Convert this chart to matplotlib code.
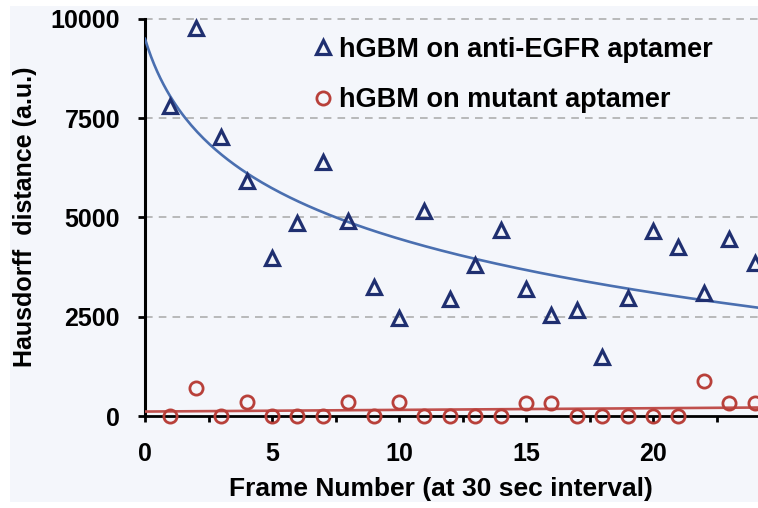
import numpy as np
import matplotlib
matplotlib.use('Agg')
import matplotlib.pyplot as plt
from matplotlib.patches import Rectangle
from matplotlib.ticker import MultipleLocator, FuncFormatter

# Frame numbers and Hausdorff distances
frames = np.arange(1, 25)
egfr = [7800, 9770, 7030, 5920, 3980, 4860, 6400, 4910, 3250, 2470, 5160, 2950,
        3800, 4690, 3200, 2540, 2670, 1490, 2970, 4660, 4260, 3100, 4460, 3850]
mutant = [0, 700, 0, 350, 0, 0, 0, 350, 0, 350, 0, 0,
          0, 0, 330, 330, 0, 0, 0, 0, 0, 880, 330, 330]

labels = ['hGBM on anti-EGFR aptamer', 'hGBM on mutant aptamer']
yticks = [0, 2500, 5000, 7500, 10000]

plt.rcParams['font.family'] = ['Liberation Sans', 'DejaVu Sans']
plt.rcParams['font.weight'] = 'bold'
plt.rcParams['xtick.major.pad'] = 14.5
plt.rcParams['xtick.major.size'] = 4
plt.rcParams['xtick.major.width'] = 2
plt.rcParams['xtick.labelsize'] = 18
plt.rcParams['ytick.major.pad'] = 13
plt.rcParams['ytick.major.size'] = 5
plt.rcParams['ytick.major.width'] = 2
plt.rcParams['ytick.labelsize'] = 18

fig = plt.figure(figsize=(7.58, 5.08), dpi=100)
fig.patch.set_facecolor('white')
# light panel behind the chart
panel = Rectangle((10 / 758, 6 / 508), 1, 496 / 508, transform=fig.transFigure,
                  facecolor='#f4f6fb', edgecolor='none', zorder=-5)
fig.add_artist(panel)

ax = fig.add_axes([145 / 758, 92 / 508, 613 / 758, 399 / 508])
ax.set_facecolor('none')

# trend lines: log fit for EGFR, linear fit for mutant
xs = np.linspace(0, 24.13, 200)
b, a = np.polyfit(np.log(frames + 1), egfr, 1)
ax.plot(xs, a + b * np.log(xs + 1), color='#4a6fb0', lw=1.9, zorder=3)
m, c = np.polyfit(frames, mutant, 1)
ax.plot(xs, c + m * xs, color='#c0504d', lw=1.9, zorder=3)

ax.plot(frames, egfr, linestyle='none', marker='^', ms=10.5, mfc='none',
        mec='#1f2f70', mew=2.3, clip_on=False, zorder=4, label=labels[0])
ax.plot(frames, mutant, linestyle='none', marker='o', ms=9.5, mfc='none',
        mec='#b8403a', mew=2.0, clip_on=False, zorder=4, label=labels[1])

ax.set_xlim(0, 24.13)
ax.set_ylim(0, 10050)
ax.set_yticks(yticks)
# ticks every 2.5, labels only on multiples of 5
ax.xaxis.set_major_locator(MultipleLocator(2.5))
ax.xaxis.set_major_formatter(FuncFormatter(lambda v, p: '%d' % v if v % 5 == 0 else ''))

for t in yticks[1:]:
    ax.axhline(t, color='#a8a8a8', lw=1.1, ls=(0, (5, 4)), zorder=1)

for s in ['top', 'right']:
    ax.spines[s].set_visible(False)
ax.spines['left'].set_bounds(0, 10000)
ax.spines['left'].set_linewidth(2.2)
ax.spines['bottom'].set_linewidth(2.0)

ax.set_xlabel('Frame Number (at 30 sec interval)', fontsize=19, fontweight='bold')
ax.xaxis.set_label_coords(0.483, -0.153)
ax.set_ylabel('Hausdorff  distance (a.u.)', fontsize=18, fontweight='bold',
              labelpad=10)

ax.legend(loc='upper left', bbox_to_anchor=(0.272, 0.95), frameon=False,
          fontsize=19.5, handlelength=0.8, handletextpad=0.2, borderpad=0,
          labelspacing=0.9, borderaxespad=0)

fig.savefig('out.png', dpi=100, facecolor=fig.get_facecolor())
